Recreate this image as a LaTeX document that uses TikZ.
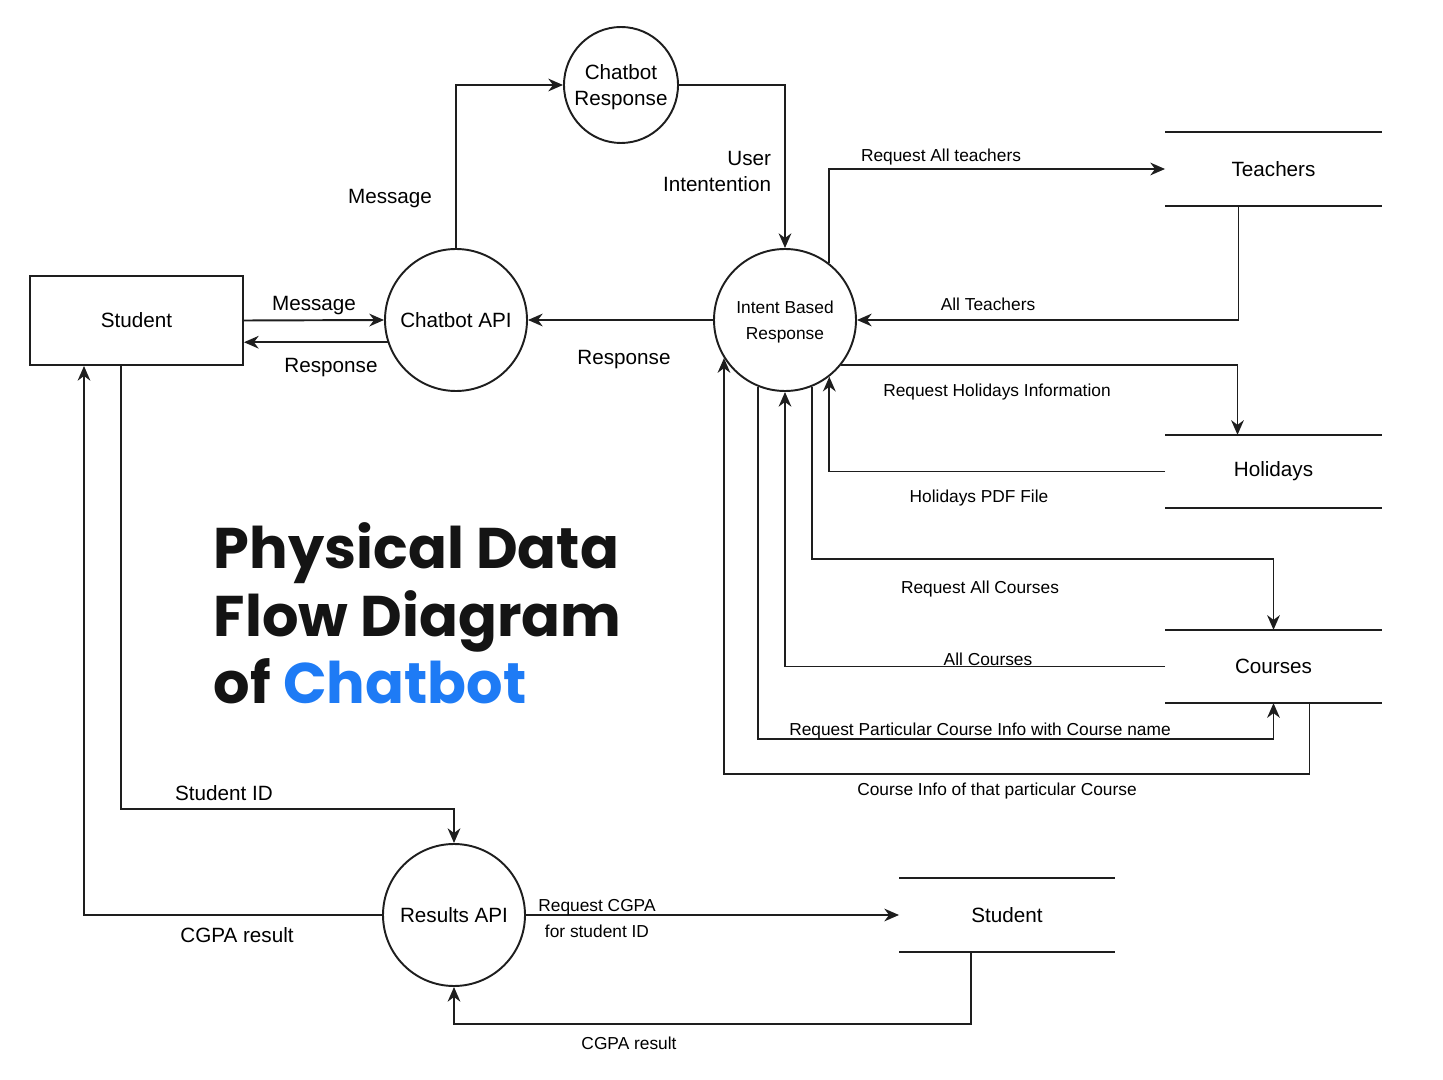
\documentclass[tikz,border=0pt]{standalone}
\usepackage{fontspec}
\setmainfont{Liberation Sans}
\newfontfamily\titlefont{Poppins}
\usetikzlibrary{arrows.meta,shapes.geometric,calc}
\definecolor{tblue}{RGB}{30,123,245}
\definecolor{tblack}{RGB}{20,20,20}
\definecolor{lgray}{RGB}{30,30,30}
\begin{document}
\begin{tikzpicture}[x=0.75pt,y=-0.75pt,line width=1.45pt,draw=lgray,
  >={Stealth[length=11pt,width=9.5pt,inset=3.5pt]},
  big/.style={font=\fontsize{15.5}{19.5}\selectfont},
  small/.style={font=\fontsize{13}{19.5}\selectfont},
  proc/.style={draw,circle,minimum size=106.5pt,inner sep=0pt,align=center},
  store/.style={minimum width=161.25pt,minimum height=53.5pt,inner sep=0pt,big},
  lbl/.style={inner sep=0pt,align=center,yshift=-1.8pt}]
\useasboundingbox (0,0) rectangle (1443,1080);

% entities and processes
\node[draw,minimum width=159.75pt,minimum height=66.75pt,inner sep=0pt,big] (stud) at (136.5,320.5) {Student};
\node[proc,big] (api) at (456,320) {Chatbot API};
\node[draw,ellipse,minimum width=85.5pt,minimum height=87pt,inner xsep=-6.5pt,inner ysep=0pt,align=center,big] (cr) at (621,85) {\rule{0pt}{14pt}Chatbot\\Response};
\node[proc,small] (ibr) at (785,320) {\rule{0pt}{12.5pt}Intent Based\\Response};
\node[proc,big] (res) at (454,915) {Results API};

% data stores
\node[store] (teach) at (1273.5,169) {Teachers};
\node[store] (hol) at (1273.5,471.5) {Holidays};
\node[store] (cour) at (1273.5,666.5) {Courses};
\node[store,minimum width=160.5pt] (sst) at (1007,915) {Student};
\foreach \s in {teach,hol,cour,sst}{
  \draw (\s.north west) -- (\s.north east);
  \draw (\s.south west) -- (\s.south east);
}

% connectors
\draw[->] (stud.east) -- (api.west);
\draw[->] (api.198) -- (stud.east |- api.198);
\draw[->] (api.north) |- (cr.west);
\draw[->] (cr.east) -| (ibr.north);
\draw[->] (ibr.west) -- (api.east);
\draw[->] (ibr.52) |- (teach.west);
\draw[->] ($(teach.south)+(-35,0)$) |- (ibr.east);
\draw[->] (ibr.-39) -| ($(hol.north)+(-36,0)$);
\draw[->] (hol.west) -| (ibr.-52);
\draw[->] (ibr.-68) |- ($(cour.north)+(0,-71)$) -- (cour.north);
\draw[->] (cour.west) -| (ibr.south);
\draw[->] (ibr.-112) |- ($(cour.south)+(0,36)$) -- (cour.south);
\draw[->] ($(cour.south)+(36,0)$) -- ++(0,71) -| (ibr.212);
\draw[->] ($(stud.south)+(-15.5,0)$) -- ++(0,443) -| (res.north);
\draw[->] (res.west) -| ($(stud.south)+(-52.5,0)$);
\draw[->] (res.east) -- (sst.west);
\draw[->] ($(sst.south)+(-36,0)$) -- ++(0,72) -| (res.south);

% labels
\node[lbl,big] (l1) at (314,303) {Message};
\node[lbl,big] (l2) at (331,365) {Response};
\node[lbl,big] (l3) at (390,196) {Message};
\node[lbl,big,align=right,anchor=east] (l4) at (772,169) {User\\Intentention};
\node[lbl,big] (l5) at (624,357) {Response};
\node[lbl,small] (l6) at (941,155) {Request All teachers};
\node[lbl,small] (l7) at (988,302) {All Teachers};
\node[lbl,small] (l8) at (997,390) {Request Holidays Information};
\node[lbl,small] (l9) at (979,496) {Holidays PDF File};
\node[lbl,small] (l10) at (980,587) {Request All Courses};
\node[lbl,small] (l11) at (988,657) {All Courses};
\node[lbl,small] (l12) at (980,729) {Request Particular Course Info with Course name};
\node[lbl,small] (l13) at (997,789) {Course Info of that particular Course};
\node[lbl,big] (l14) at (224,791) {Student ID};
\node[lbl,big] (l15) at (237,933) {CGPA result};
\node[lbl,small] (l16) at (597,916) {Request CGPA\\for student ID};
\node[lbl,small] (l17) at (629,1041) {CGPA result};

% title
\tikzset{ttl/.style={anchor=base west,inner sep=0pt,text=tblack,font=\titlefont\bfseries\fontsize{43}{48}\selectfont}}
\node[ttl] (t1) at (213,568) {Physical Data};
\node[ttl] (t2) at (213,636) {Flow Diagram};
\node[ttl] (t3) at (213,703) {of \textcolor{tblue}{Chatbot}};
\end{tikzpicture}
\end{document}
